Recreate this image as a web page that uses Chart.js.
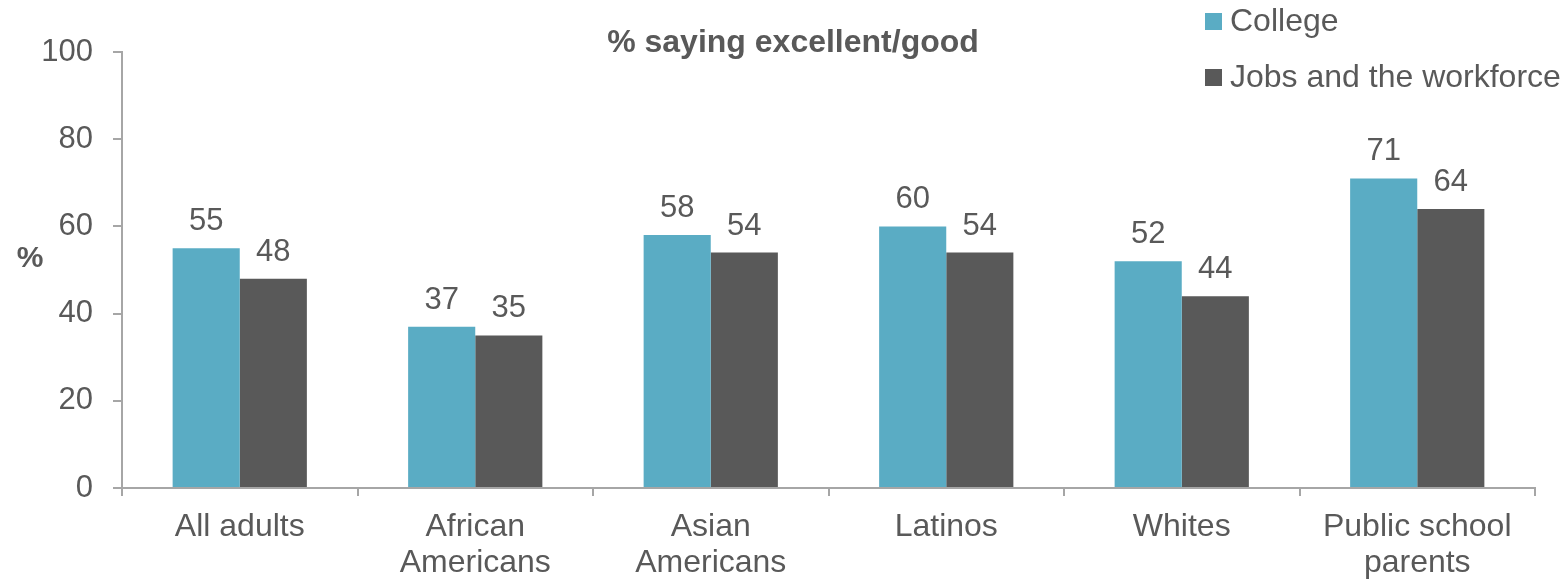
<!DOCTYPE html>
<html>
<head>
<meta charset="utf-8">
<script src="https://cdn.jsdelivr.net/npm/chart.js@4/dist/chart.umd.min.js"></script>
<style>
  html, body { margin: 0; padding: 0; background: #fff; }
  #wrap { width: 1566px; height: 579px; }
</style>
</head>
<body>
<div id="wrap"><canvas id="grafico" width="1566" height="579"></canvas></div>
<script>
const categorias = [
    'All adults',
    ['African', 'Americans'],
    ['Asian', 'Americans'],
    'Latinos',
    'Whites',
    ['Public school', 'parents']
];
const college = [55, 37, 58, 60, 52, 71];
const jobs = [48, 35, 54, 54, 44, 64];
const ticksY = [0, 20, 40, 60, 80, 100];

const corTexto = '#595959';
const corEixo = '#a6a6a6';
const fonte = 'Liberation Sans, Arial, sans-serif';

// valores acima das barras, titulo, "%" e legenda
const extras = {
    id: 'extras',
    afterDatasetsDraw(chart) {
        const ctx = chart.ctx;
        ctx.save();
        ctx.fillStyle = corTexto;
        ctx.font = '31px ' + fonte;
        ctx.textAlign = 'center';
        ctx.textBaseline = 'alphabetic';
        chart.data.datasets.forEach((ds, i) => {
            chart.getDatasetMeta(i).data.forEach((bar, j) => {
                ctx.fillText(ds.data[j], bar.x, bar.y - 18);
            });
        });

        ctx.font = 'bold 32px ' + fonte;
        ctx.fillText('% saying excellent/good', 793, 52);
        ctx.font = 'bold 30px ' + fonte;
        ctx.fillText('%', 30, 267);

        ctx.textAlign = 'left';
        ctx.textBaseline = 'middle';
        ctx.font = '32px ' + fonte;
        chart.data.datasets.forEach((ds, i) => {
            const y = 21 + i * 56;
            ctx.fillStyle = ds.backgroundColor;
            ctx.fillRect(1205, y - 8, 17, 17);
            ctx.fillStyle = corTexto;
            ctx.fillText(ds.label, 1230, y + 1);
        });
        ctx.restore();
    }
};

const ctx = document.getElementById('grafico').getContext('2d');
const grafico = new Chart(ctx, {
    type: 'bar',
    data: {
        labels: categorias,
        datasets: [{
            label: 'College',
            data: college,
            backgroundColor: '#5aacc4',
            barPercentage: 1,
            categoryPercentage: 0.57
        }, {
            label: 'Jobs and the workforce',
            data: jobs,
            backgroundColor: '#595959',
            barPercentage: 1,
            categoryPercentage: 0.57
        }]
    },
    options: {
        responsive: false,
        animation: false,
        layout: {
            padding: { top: 52, right: 31, left: 0, bottom: 0 }
        },
        plugins: {
            legend: { display: false },
            tooltip: { enabled: false }
        },
        scales: {
            x: {
                grid: {
                    display: true,
                    offset: true,
                    drawOnChartArea: false,
                    drawTicks: true,
                    tickLength: 8,
                    color: corEixo,
                    lineWidth: 2
                },
                border: { color: corEixo, width: 2 },
                ticks: {
                    color: corTexto,
                    font: { family: fonte, size: 32, lineHeight: 1.1 },
                    padding: 14,
                    maxRotation: 0,
                    autoSkip: false
                },
                afterFit(axis) {
                    axis.height = 91;
                }
            },
            y: {
                min: 0,
                max: 100,
                afterBuildTicks(axis) {
                    axis.ticks = ticksY.map(v => ({ value: v }));
                },
                grid: {
                    display: true,
                    drawOnChartArea: false,
                    drawTicks: true,
                    tickLength: 9,
                    color: corEixo,
                    lineWidth: 2
                },
                border: { color: corEixo, width: 2 },
                ticks: {
                    color: corTexto,
                    font: { family: fonte, size: 31 },
                    padding: 20
                },
                afterFit(axis) {
                    axis.width = 122;
                }
            }
        }
    },
    plugins: [extras]
});
</script>
</body>
</html>
